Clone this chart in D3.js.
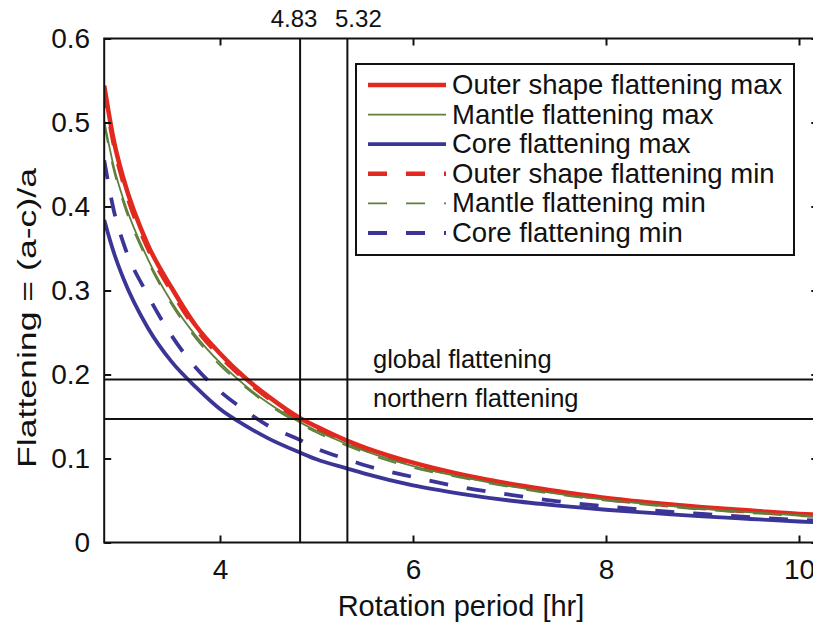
<!DOCTYPE html>
<html>
<head>
<meta charset="utf-8">
<script src="https://cdn.jsdelivr.net/npm/d3@7"></script>
<style>
  body { margin: 0; background: #fff; }
  svg text { font-family: "Liberation Sans", Arial, Helvetica, sans-serif; fill: #111; }
</style>
</head>
<body>
<svg id="chart" width="813" height="626"></svg>
<script>
"use strict";

// Values (rotation period in hours, flattening)
var periods = [2.8, 2.9, 3.0, 3.25, 3.5, 3.75, 4.0, 4.25, 4.5, 4.83, 5.0, 5.32, 5.5,
               6.0, 6.5, 7.0, 7.5, 8.0, 8.5, 9.0, 9.5, 10.0, 10.2];

var outerMax  = [0.544, 0.478, 0.433, 0.355, 0.303, 0.258, 0.225, 0.197, 0.174, 0.148, 0.138, 0.121, 0.113,
                 0.095, 0.081, 0.070, 0.061, 0.053, 0.047, 0.042, 0.038, 0.034, 0.033];
var mantleMax = [0.502, 0.447, 0.408, 0.338, 0.286, 0.246, 0.214, 0.188, 0.166, 0.143, 0.133, 0.117, 0.109,
                 0.091, 0.078, 0.067, 0.058, 0.051, 0.045, 0.040, 0.036, 0.0325, 0.031];
var coreMax   = [0.384, 0.345, 0.314, 0.256, 0.215, 0.185, 0.159, 0.140, 0.124, 0.107, 0.099, 0.088, 0.082,
                 0.068, 0.058, 0.050, 0.044, 0.039, 0.035, 0.031, 0.028, 0.025, 0.024];
var outerMin  = [0.540, 0.474, 0.428, 0.351, 0.299, 0.255, 0.222, 0.195, 0.172, 0.146, 0.136, 0.119, 0.111,
                 0.093, 0.080, 0.069, 0.060, 0.052, 0.046, 0.041, 0.037, 0.033, 0.032];
var mantleMin = [0.498, 0.443, 0.404, 0.335, 0.283, 0.243, 0.211, 0.186, 0.164, 0.141, 0.131, 0.115, 0.107,
                 0.089, 0.077, 0.066, 0.057, 0.050, 0.044, 0.039, 0.035, 0.032, 0.0305];
var coreMin   = [0.455, 0.395, 0.356, 0.295, 0.246, 0.208, 0.180, 0.158, 0.139, 0.122, 0.112, 0.099, 0.092,
                 0.078, 0.066, 0.057, 0.049, 0.043, 0.038, 0.034, 0.030, 0.027, 0.026];

var seriesNames = ["Outer shape flattening max", "Mantle flattening max", "Core flattening max",
                   "Outer shape flattening min", "Mantle flattening min", "Core flattening min"];

var markedPeriods = [4.83, 5.32];
var flatLevels = [0.194, 0.147];
var flatLabels = ["global flattening", "northern flattening"];

var xTicks = [4, 6, 8, 10];
var yTicks = [0, 0.1, 0.2, 0.3, 0.4, 0.5, 0.6];

// styling
var red = "#e2291f", green = "#5f7f3b", blue = "#3b3597";
var styles = [
    {color: red,   width: 4.5, dash: null},
    {color: green, width: 1.8, dash: null},
    {color: blue,  width: 3.8, dash: null},
    {color: red,   width: 4.5, dash: "19,19"},
    {color: green, width: 1.8, dash: "19,19"},
    {color: blue,  width: 3.8, dash: "19,19"}
];
var allValues = [outerMax, mantleMax, coreMax, outerMin, mantleMin, coreMin];
var markLabelShift = [-6, 11];   // the two period labels are nudged apart

var svg = d3.select("#chart");
svg.append("rect").attr("width", 813).attr("height", 626).attr("fill", "#fff");

var plotLeft = 104.2, plotTop = 38.5, plotBottom = 542.5;
var x = d3.scaleLinear().domain([2.8, 10.2]).range([plotLeft, plotLeft + 7.4 * 96.5]);
var y = d3.scaleLinear().domain([0, 0.6]).range([plotBottom, plotTop]);
var plotRight = x(10.2);

svg.append("clipPath").attr("id", "plotClip")
    .append("rect")
    .attr("x", plotLeft).attr("y", plotTop)
    .attr("width", plotRight - plotLeft).attr("height", plotBottom - plotTop);

var plot = svg.append("g").attr("clip-path", "url(#plotClip)");

// curves
var line = d3.line()
    .x(function (d) { return x(d[0]); })
    .y(function (d) { return y(d[1]); })
    .curve(d3.curveMonotoneX);

var drawOrder = [0, 3, 1, 4, 2, 5];
drawOrder.forEach(function (i) {
    var pts = periods.map(function (p, k) { return [p, allValues[i][k]]; });
    plot.append("path")
        .attr("d", line(pts))
        .attr("fill", "none")
        .attr("stroke", styles[i].color)
        .attr("stroke-width", styles[i].width)
        .attr("stroke-dasharray", styles[i].dash);
});

// reference lines
plot.selectAll("line.vref").data(markedPeriods).enter().append("line")
    .attr("class", "vref")
    .attr("x1", function (d) { return x(d); }).attr("x2", function (d) { return x(d); })
    .attr("y1", plotTop).attr("y2", plotBottom)
    .attr("stroke", "#111").attr("stroke-width", 2);

plot.selectAll("line.href").data(flatLevels).enter().append("line")
    .attr("class", "href")
    .attr("x1", plotLeft).attr("x2", plotRight)
    .attr("y1", function (d) { return y(d); }).attr("y2", function (d) { return y(d); })
    .attr("stroke", "#111").attr("stroke-width", 2);

svg.selectAll("text.vlab").data(markedPeriods).enter().append("text")
    .attr("class", "vlab")
    .attr("x", function (d, i) { return x(d) + markLabelShift[i]; })
    .attr("y", 27)
    .attr("text-anchor", "middle")
    .attr("font-size", 24)
    .text(function (d) { return d.toFixed(2); });

svg.selectAll("text.hlab").data(flatLevels).enter().append("text")
    .attr("class", "hlab")
    .attr("x", 373)
    .attr("y", function (d) { return y(d) - 12; })
    .attr("font-size", 25.5)
    .text(function (d, i) { return flatLabels[i]; });

// axes (ticks inward, box all round)
var tickLen = 7;
svg.append("g").attr("transform", "translate(0," + plotBottom + ")")
    .call(d3.axisBottom(x).tickValues(xTicks).tickSize(-tickLen).tickPadding(17).tickFormat(d3.format("d")))
    .call(function (g) { g.select(".domain").remove(); });
svg.append("g").attr("transform", "translate(0," + plotTop + ")")
    .call(d3.axisTop(x).tickValues(xTicks).tickSize(-tickLen).tickFormat(""))
    .call(function (g) { g.select(".domain").remove(); });
svg.append("g").attr("transform", "translate(" + plotLeft + ",0)")
    .call(d3.axisLeft(y).tickValues(yTicks).tickSize(-tickLen).tickPadding(14).tickFormat(function (d) { return d === 0 ? "0" : d3.format(".1f")(d); }))
    .call(function (g) { g.select(".domain").remove(); });
svg.append("g").attr("transform", "translate(" + plotRight + ",0)")
    .call(d3.axisRight(y).tickValues(yTicks).tickSize(-tickLen).tickFormat(""))
    .call(function (g) { g.select(".domain").remove(); });

svg.selectAll(".tick line").attr("stroke", "#111").attr("stroke-width", 2);
svg.selectAll(".tick text").attr("font-size", 28).attr("fill", "#111");

svg.append("rect")
    .attr("x", plotLeft).attr("y", plotTop)
    .attr("width", plotRight - plotLeft).attr("height", plotBottom - plotTop)
    .attr("fill", "none").attr("stroke", "#111").attr("stroke-width", 2);

// axis titles
svg.append("text")
    .attr("x", 461).attr("y", 616)
    .attr("text-anchor", "middle")
    .attr("font-size", 29)
    .text("Rotation period [hr]");
svg.append("text")
    .attr("transform", "translate(36,318) rotate(-90)")
    .attr("text-anchor", "middle")
    .attr("font-size", 26)
    .attr("textLength", 300)
    .attr("lengthAdjust", "spacingAndGlyphs")
    .text("Flattening = (a-c)/a");

// legend
var legend = svg.append("g").attr("transform", "translate(356,64)");
legend.append("rect")
    .attr("width", 438).attr("height", 191)
    .attr("fill", "#fff").attr("stroke", "#111").attr("stroke-width", 2);
var rows = legend.selectAll("g.row").data(seriesNames).enter().append("g")
    .attr("class", "row")
    .attr("transform", function (d, i) { return "translate(0," + (21 + i * 29.6) + ")"; });
rows.append("line")
    .attr("x1", 12).attr("x2", 90)
    .attr("stroke", function (d, i) { return styles[i].color; })
    .attr("stroke-width", function (d, i) { return styles[i].width; })
    .attr("stroke-dasharray", function (d, i) { return styles[i].dash; });
rows.append("text")
    .attr("x", 96).attr("y", 9)
    .attr("font-size", 27.5)
    .text(function (d) { return d; });
</script>
</body>
</html>
